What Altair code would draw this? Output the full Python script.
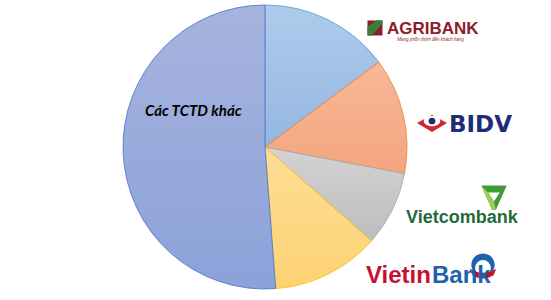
import altair as alt
import pandas as pd

banks = ["Agribank", "BIDV", "Vietcombank", "VietinBank", "Các TCTD khác"]
shares = [14.8, 13.2, 8.5, 12.3, 51.2]
fill_top = ["#aecbeb", "#f8b898", "#d3d3d3", "#fedd96", "#a7b3de"]
fill_bottom = ["#94b6e2", "#f3a57e", "#bdbdbd", "#fdd273", "#8ba2d9"]
strokes = ["#5b9bd5", "#ed7d31", "#a5a5a5", "#ffc000", "#4472c4"]

df = pd.DataFrame({"bank": banks, "share": shares, "idx": list(range(len(banks)))})

base = alt.Chart(df).transform_window(
    cum="sum(share)", sort=[alt.SortField("idx")], frame=[None, 0]
).transform_calculate(start="datum.cum - datum.share")

slices = []
for b, t, bo, s in zip(banks, fill_top, fill_bottom, strokes):
    grad = alt.LinearGradient(
        gradient="linear", x1=0, y1=0, x2=0, y2=1,
        stops=[alt.GradientStop(color=t, offset=0), alt.GradientStop(color=bo, offset=1)],
    )
    slices.append(
        base.transform_filter(alt.datum.bank == b).mark_arc(
            outerRadius=142, strokeWidth=0.8, color=grad, stroke=s
        ).encode(
            theta=alt.Theta("start:Q", scale=alt.Scale(domain=[0, sum(shares)], nice=False, zero=True)),
            theta2="cum:Q",
            x=alt.value(265),
            y=alt.value(147),
        )
    )


def txt(s, x, y, size, color, weight="bold", style="normal", font="Liberation Sans", align="left"):
    return alt.Chart(pd.DataFrame({"t": [s]})).mark_text(
        fontSize=size, fontWeight=weight, fontStyle=style, font=font, color=color,
        align=align, baseline="alphabetic"
    ).encode(text="t:N", x=alt.value(x), y=alt.value(y))


def sym(shape, x, y, size, color):
    return alt.Chart(pd.DataFrame({"a": [1]})).mark_point(
        shape=shape, size=size, filled=True, color=color, opacity=1, strokeWidth=0
    ).encode(x=alt.value(x), y=alt.value(y))


label = txt("Các TCTD khác", 145, 116, 15, "#000000", style="italic", font="Lato")

# Agribank
agri_icon = sym("square", 375, 28, 225, "#8e1c2c")
agri_icon2 = sym("M-1,1 L-1,-0.2 L0.2,-1 L1,-1 L1,-0.6 L-0.4,1 Z", 375, 28, 225, "#3c7d3a")
agri = txt("AGRIBANK", 387, 34, 17, "#8e1c2c", font="Liberation Sans Narrow, Liberation Sans")
agri_tag = txt("Mang phồn thịnh đến khách hàng", 464, 41, 4.5, "#8e1c2c", weight="normal", style="italic", align="right")

# BIDV
bidv_icon = sym("M-1,0 L0,-0.55 L1,0 L0,0.6 Z", 432, 123, 900, "#d0262f")
bidv_icon2 = sym("M-0.55,0 A0.55,0.35 0 0,1 0.55,0 A0.55,0.35 0 0,1 -0.55,0 Z", 432, 121, 900, "#ffffff")
bidv_icon3 = sym("circle", 432, 121, 45, "#1c2a6e")
bidv = txt("BIDV", 449, 132, 23, "#1f2d78", font="DejaVu Sans")

# Vietcombank
vcb_icon = sym("M-1,-0.9 L1,-0.9 L0.15,1 L-0.15,1 Z", 494, 197, 650, "#3f9a3a")
vcb_icon2 = sym("M-0.45,-0.35 L0.45,-0.35 L0,0.35 Z", 494, 197, 650, "#ffffff")
vcb_icon3 = sym("M-1,-0.9 L-0.45,-0.35 L0,0.35 L0.15,1 L-0.15,1 Z", 494, 197, 650, "#9ccc5a")
vcb = txt("Vietcombank", 406, 223, 18, "#1f6b3a", font="Liberation Sans")

# VietinBank
vtb1 = txt("Vietin", 366, 283, 24, "#c8102e", font="Liberation Sans")
vtb2 = txt("Bank", 432, 283, 24, "#1d62ad", font="Liberation Sans")
vtb_icon = sym("circle", 483, 265, 540, "#1d62ad")
vtb_icon2 = sym("circle", 483, 268, 250, "#ffffff")
vtb_icon3 = sym("M-1,-0.1 Q0,0.5 1,-0.1 L0.8,0.4 Q0,0.9 -0.8,0.4 Z", 483, 270, 700, "#c8102e")

chart = alt.layer(
    *slices, label,
    agri_icon, agri_icon2, agri, agri_tag,
    bidv_icon, bidv_icon2, bidv_icon3, bidv,
    vcb_icon, vcb_icon2, vcb_icon3, vcb,
    vtb_icon, vtb_icon2, vtb_icon3, vtb1, vtb2,
).properties(
    width=551, height=300, padding=0, autosize=alt.AutoSizeParams(type="none"),
    background="#ffffff"
).configure_view(stroke=None)

chart.save("out.html", embed_options={"renderer": "svg", "actions": False})
